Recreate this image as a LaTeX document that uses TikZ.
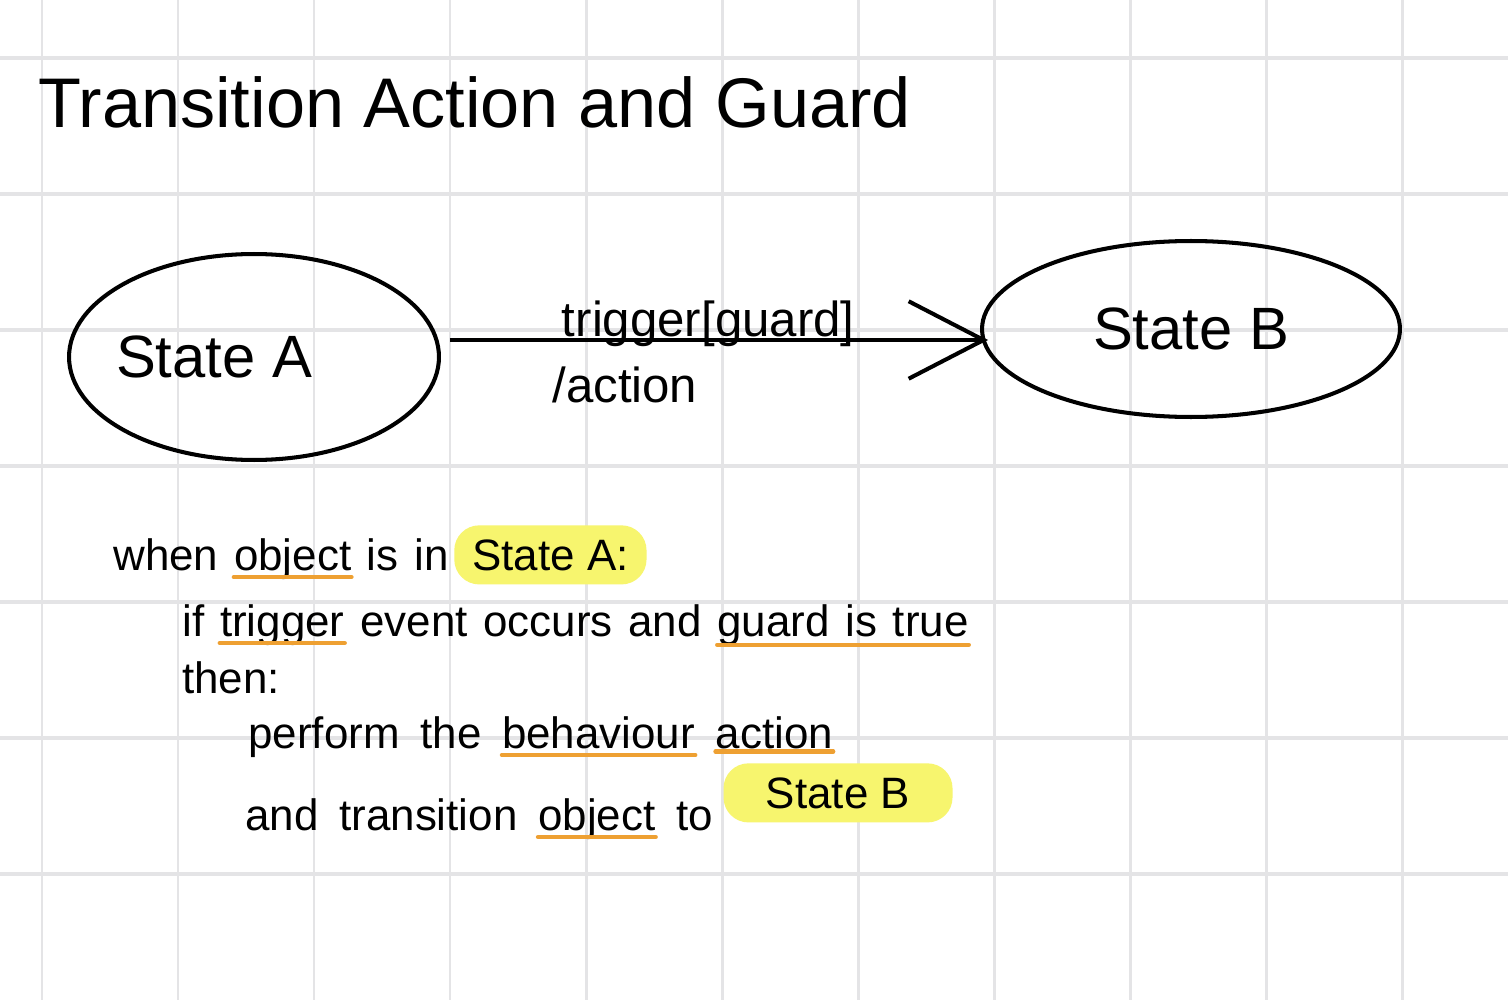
\documentclass[tikz,border=0pt]{standalone}
\usepackage{fontspec}
\setmainfont{Liberation Sans}
\usetikzlibrary{positioning,shapes.geometric,arrows.meta}

\definecolor{gridgray}{RGB}{228,228,230}
\definecolor{hlyellow}{RGB}{247,245,110}
\definecolor{ulorange}{RGB}{238,160,50}

\tikzset{
  pen/.style={line width=2.3pt, black},
  gridv/.style={draw=gridgray, line width=1.7pt},
  gridh/.style={draw=gridgray, line width=2.4pt},
  state/.style={draw, ellipse, line width=2.3pt, font=\fontsize{34}{40}\selectfont},
  title/.style={inner sep=0pt, font=\fontsize{40}{48}\selectfont},
  word/.style={inner sep=0pt, font=\fontsize{25}{30}\selectfont},
  lbl/.style={inner sep=0pt, font=\fontsize{28}{33}\selectfont},
  hl/.style={fill=hlyellow, rounded corners=0.5cm, inner xsep=0.36cm, inner ysep=0.28cm},
  uline/.style={draw=ulorange, line width=2.3pt, line cap=round},
}

\begin{document}
\begin{tikzpicture}[x=0.02cm, y=-0.02cm]
    \useasboundingbox (0,0) rectangle (1508,1000);
    \fill[white] (0,0) rectangle (1508,1000);
    % squared paper
    \foreach \gx in {42,178,...,1402} \draw[gridv] (\gx,0) -- (\gx,1000);
    \foreach \gy in {58,194,...,874} \draw[gridh] (0,\gy) -- (1508,\gy);

    \node[title, anchor=base west] (title) at (38,128) {Transition Action and Guard};

    % the two states
    \node[state, minimum width=7.4cm, minimum height=4.12cm] (A) at (254,357) {\hspace*{-1.6cm}State A};
    \node[state, minimum width=8.36cm, minimum height=3.52cm] (B) at (1191,329) {State B};
    \coordinate (tip) at ([xshift=0.16cm, yshift=-0.22cm]B.west);
    \draw[pen, -{Straight Barb[length=1.5cm, width=1.55cm]}] ([xshift=0.18cm]A.east |- tip) -- (tip)
        node[lbl, pos=0.48, anchor=base, yshift=2pt] (trig) {trigger[guard]}
        node[lbl, pos=0.325, anchor=base, yshift=-1.26cm] (act) {/action};

    % line 1
    \node[word, anchor=base west] (when) at (113,570) {when};
    \node[word, base right=0.3cm of when] (obj1) {object};
    \node[word, base right=0.3cm of obj1] (is1) {is};
    \node[word, base right=0.3cm of is1] (in1) {in};
    \node[word, hl, base right=0.1cm of in1] (stA) {State A:};
    % line 2
    \node[word, anchor=base west] (if) at (182,636) {if};
    \node[word, base right=0.3cm of if] (trg) {trigger};
    \node[word, base right=0.3cm of trg] (evt) {event};
    \node[word, base right=0.3cm of evt] (occ) {occurs};
    \node[word, base right=0.3cm of occ] (and1) {and};
    \node[word, base right=0.3cm of and1] (grd) {guard};
    \node[word, base right=0.3cm of grd] (is2) {is};
    \node[word, base right=0.3cm of is2] (tru) {true};
    % line 3
    \node[word, anchor=base west] (then) at (182,693) {then:};
    % line 4
    \node[word, anchor=base west] (perf) at (248,748) {perform};
    \node[word, base right=0.4cm of perf] (the) {the};
    \node[word, base right=0.4cm of the] (beh) {behaviour};
    \node[word, base right=0.4cm of beh] (actn) {action};
    % line 5
    \node[word, anchor=base west] (and2) at (245,830) {and};
    \node[word, base right=0.4cm of and2] (trans) {transition};
    \node[word, base right=0.4cm of trans] (obj2) {object};
    \node[word, base right=0.4cm of obj2] (to) {to};
    \node[word, hl, inner xsep=0.85cm, base right=0.2cm of to, yshift=0.44cm] (stB) {State B};

    % orange underlines
    \draw[uline] ([yshift=-4pt]obj1.base west) -- ([yshift=-4pt]obj1.base east);
    \draw[uline] ([yshift=-4pt]trg.base west) -- ([yshift=-4pt]trg.base east);
    \draw[uline] ([yshift=-5pt]grd.base west) -- ([yshift=-5pt]tru.base east);
    \draw[uline] ([yshift=-4pt]beh.base west) -- ([yshift=-4pt]beh.base east);
    \draw[uline] ([yshift=-2pt]actn.base west) -- ([yshift=-2pt]actn.base east);
    \draw[uline] ([yshift=-4pt]obj2.base west) -- ([yshift=-4pt]obj2.base east);
\end{tikzpicture}
\end{document}
